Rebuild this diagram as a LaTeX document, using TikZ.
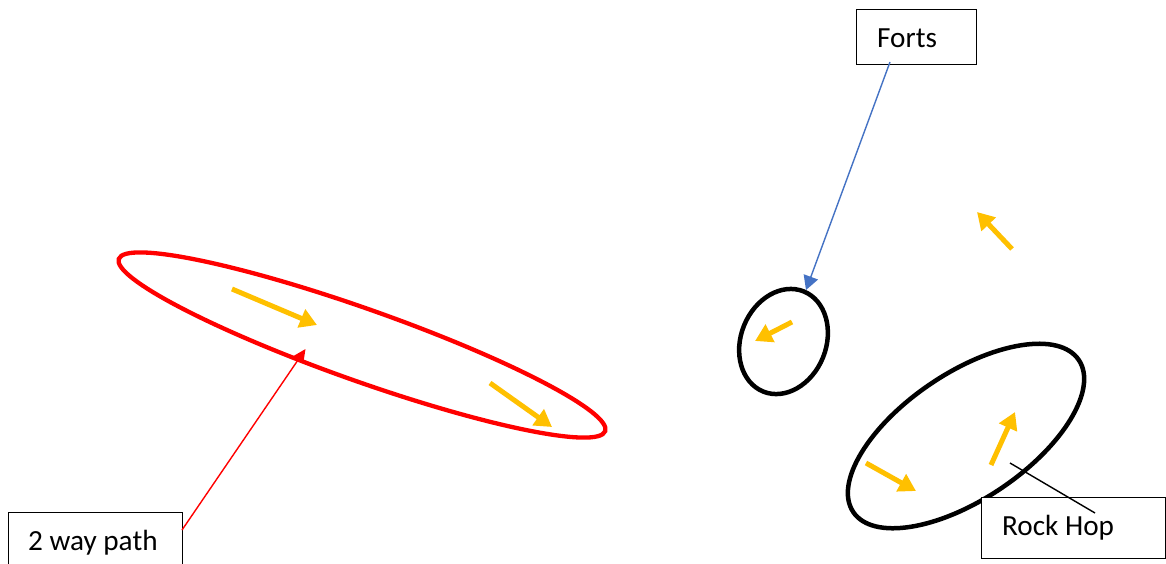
\documentclass[tikz,border=0pt]{standalone}
\usepackage{fontspec}
\setmainfont{Carlito}
\usetikzlibrary{arrows.meta}
\definecolor{flowgold}{HTML}{FFC000}
\definecolor{pathred}{HTML}{FF0000}
\definecolor{callblue}{HTML}{4472C4}
\tikzset{
  labelbox/.style={draw=black, line width=1.2pt, fill=white, rectangle, inner sep=0pt, anchor=north west},
  labeltext/.style={anchor=base west, inner sep=0pt, font=\fontsize{29.2}{35}\selectfont},
  flow/.style={draw=flowgold, line width=5pt, -{Triangle[length=17pt,width=19pt]}},
  ring/.style={line width=4.5pt},
  callout/.style={line width=1.4pt},
}
\begin{document}
\begin{tikzpicture}[x=1pt,y=-1pt]
\useasboundingbox (0,0) rectangle (1166,563);
\clip (0,0) rectangle (1166,563);
\fill[white] (0,0) rectangle (1166,563);

% ellipses
\draw[ring, draw=pathred, line width=4.3pt] (362,345) ellipse [x radius=258, y radius=36, rotate=-19.5];
\draw[ring, draw=black] (783.5,341.5) ellipse [x radius=42.6, y radius=54, rotate=-22];
\draw[ring, draw=black] (966,436) ellipse [x radius=136, y radius=63, rotate=34];

% orange direction arrows
\draw[flow] (232,289) -- (317,325);
\draw[flow] (490,383) -- (552,427);
\draw[flow] (792,322) -- (755,341);
\draw[flow] (1012,249) -- (977,212);
\draw[flow] (866,463) -- (916,491);
\draw[flow] (991,465) -- (1015,412);

% label boxes
\node[labelbox, minimum width=174pt, minimum height=70pt] (twoway) at (8,512) {};
\node[labeltext] (twowaytext) at (28,550) {2 way path};
\node[labelbox, minimum width=120pt, minimum height=55pt] (forts) at (856,9) {};
\node[labeltext] (fortstext) at (877,47) {Forts};
\node[labelbox, minimum width=184pt, minimum height=61pt] (rockhop) at (981,497) {};
\node[labeltext] (rockhoptext) at (1002,535) {Rock Hop};

% callout connectors
\coordinate (twowayport) at (182,530);
\coordinate (redtip) at (305.5,349);
\draw[callout, draw=pathred, -{Triangle[length=13pt,width=12pt]}] (twowayport) -- (redtip);
\coordinate (fortsport) at (890,62);
\coordinate (bluetip) at (806,290);
\draw[callout, draw=callblue, -{Triangle[length=14pt,width=15pt]}] (fortsport) -- (bluetip);
\coordinate (rockinside) at (1010,463);
\coordinate (rockport) at (1095,513);
\draw[callout, draw=black] (rockinside) -- (rockport);
\end{tikzpicture}
\end{document}
